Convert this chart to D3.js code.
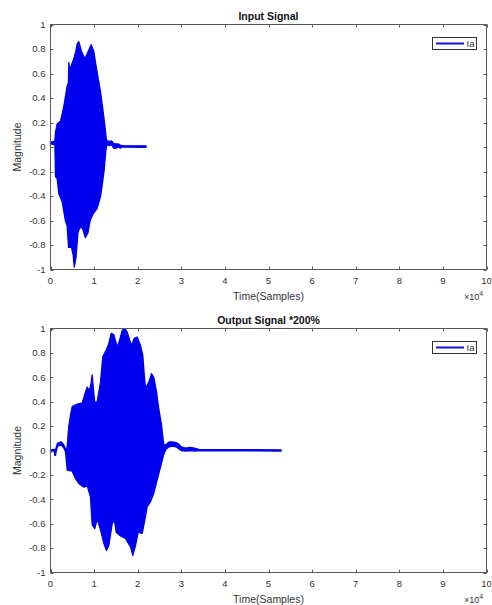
<!DOCTYPE html>
<html><head><meta charset="utf-8">
<script src="https://cdn.jsdelivr.net/npm/d3@7"></script>
<style>body{margin:0;background:#fff}svg{display:block}</style>
</head><body>
<svg id="c" width="492" height="605"></svg>
<script>
// x values in units of 10^4 samples
const xTicks = [0,1,2,3,4,5,6,7,8,9,10];
const yTicks = [-1,-0.8,-0.6,-0.4,-0.2,0,0.2,0.4,0.6,0.8,1];
const yTickLabels = ["-1","-0.8","-0.6","-0.4","-0.2","0","0.2","0.4","0.6","0.8","1"];
const titles = ["Input Signal","Output Signal *200%"];
const legendLabel = "Ia";

// Input signal envelope (upper / lower)
const inUpper = [[0,0.045],[0.05,0.04],[0.10,0.05],[0.115,0.12],[0.154,0.19],[0.19,0.2],[0.229,0.21],[0.305,0.33],[0.383,0.5],[0.41,0.52],[0.42,0.69],[0.44,0.62],[0.459,0.65],[0.534,0.72],[0.58,0.78],[0.612,0.84],[0.649,0.86],[0.711,0.78],[0.787,0.72],[0.865,0.78],[0.933,0.835],[0.993,0.78],[1.032,0.69],[1.094,0.56],[1.147,0.45],[1.2,0.31],[1.245,0.18],[1.278,0.07],[1.3,0.05],[1.35,0.045],[1.4,0.05],[1.45,0.03],[1.5,0.025],[1.55,0.025],[1.6,0.015],[1.65,0.012],[2.19,0.01]];
const inLower = [[0,0.025],[0.1,0.02],[0.115,-0.24],[0.154,-0.26],[0.19,-0.38],[0.27,-0.45],[0.34,-0.6],[0.38,-0.64],[0.415,-0.82],[0.48,-0.82],[0.52,-0.88],[0.545,-0.98],[0.585,-0.9],[0.63,-0.7],[0.67,-0.66],[0.73,-0.66],[0.8,-0.74],[0.86,-0.7],[0.91,-0.6],[0.97,-0.55],[1.07,-0.5],[1.15,-0.4],[1.19,-0.3],[1.23,-0.19],[1.27,-0.03],[1.29,0.02],[1.35,0.01],[1.4,0.02],[1.45,-0.01],[1.5,-0.01],[1.55,0.0],[1.6,-0.01],[1.65,0.0],[2.19,-0.002]];

// Output signal envelope (upper / lower)
const outUpper = [[0,0.005],[0.09,0.01],[0.12,0.01],[0.16,0.06],[0.25,0.07],[0.3,0.05],[0.34,0.015],[0.38,0.02],[0.42,0.2],[0.459,0.29],[0.498,0.36],[0.612,0.38],[0.727,0.39],[0.803,0.48],[0.842,0.52],[0.894,0.49],[0.93,0.55],[0.956,0.62],[0.985,0.5],[1.016,0.39],[1.071,0.4],[1.147,0.56],[1.2,0.77],[1.261,0.81],[1.337,0.875],[1.392,0.96],[1.452,0.95],[1.53,0.85],[1.583,0.9],[1.644,0.985],[1.704,1.0],[1.759,0.97],[1.858,0.86],[1.92,0.92],[1.989,0.93],[2.064,0.86],[2.117,0.78],[2.15,0.62],[2.179,0.51],[2.255,0.56],[2.317,0.63],[2.369,0.6],[2.431,0.48],[2.484,0.34],[2.546,0.21],[2.599,0.04],[2.65,0.05],[2.72,0.07],[2.8,0.07],[2.88,0.065],[2.95,0.05],[3.0,0.03],[3.1,0.02],[3.2,0.025],[3.3,0.02],[3.4,0.01],[5.29,0.005]];
const outLower = [[0,-0.01],[0.09,-0.01],[0.1,-0.04],[0.115,-0.04],[0.13,-0.01],[0.16,0.035],[0.25,0.045],[0.3,0.025],[0.344,-0.01],[0.383,-0.16],[0.498,-0.17],[0.573,-0.23],[0.649,-0.27],[0.764,-0.3],[0.842,-0.29],[0.917,-0.38],[0.956,-0.61],[1.016,-0.64],[1.071,-0.56],[1.147,-0.65],[1.222,-0.76],[1.284,-0.82],[1.337,-0.78],[1.415,-0.6],[1.468,-0.57],[1.507,-0.67],[1.606,-0.7],[1.72,-0.72],[1.835,-0.79],[1.888,-0.86],[1.95,-0.78],[2.011,-0.67],[2.103,-0.68],[2.163,-0.57],[2.218,-0.46],[2.294,-0.42],[2.369,-0.35],[2.447,-0.24],[2.523,-0.135],[2.599,-0.03],[2.65,0.01],[2.72,0.03],[2.8,0.035],[2.88,0.03],[2.95,0.01],[3.0,0.0],[3.1,-0.005],[3.2,0.0],[3.3,-0.005],[3.4,0.0],[5.29,-0.005]];

const svg = d3.select("#c");
const FONT = "'Liberation Sans', Arial, Helvetica, sans-serif";
const TXT = "#333";
const AX = "#5a5a5a";
const BLUE = "#0000f0";

function panel(top, bottom, title, upper, lower) {
  const L = 50.5, R = 486.5;
  const x = d3.scaleLinear().domain([0, 10]).range([L, R]);
  const y = d3.scaleLinear().domain([-1, 1]).range([bottom, top]);
  const g = svg.append("g");

  // signal (dense oscillation drawn as its envelope)
  const pts = upper.concat(lower.slice().reverse());
  const line = d3.line().x(d => x(d[0])).y(d => y(d[1]));
  g.append("path").attr("d", line(pts) + "Z")
    .attr("fill", BLUE).attr("stroke", BLUE).attr("stroke-width", 1.3)
    .attr("stroke-linejoin", "round");

  // frame
  g.append("rect").attr("x", L).attr("y", top).attr("width", R - L).attr("height", bottom - top)
    .attr("fill", "none").attr("stroke", AX).attr("stroke-width", 1);

  const tl = 3;
  // x ticks
  xTicks.forEach(t => {
    const px = Math.round(x(t)) + 0.5;
    g.append("line").attr("x1", px).attr("x2", px).attr("y1", bottom).attr("y2", bottom - tl).attr("stroke", AX);
    g.append("line").attr("x1", px).attr("x2", px).attr("y1", top).attr("y2", top + tl).attr("stroke", AX);
    g.append("text").attr("x", x(t)).attr("y", bottom + 14).attr("text-anchor", "middle")
      .attr("font-family", FONT).attr("font-size", 9.5).attr("fill", TXT).text(t);
  });
  // y ticks
  yTicks.forEach((t, i) => {
    const py = Math.round(y(t)) + 0.5;
    g.append("line").attr("x1", L).attr("x2", L + tl).attr("y1", py).attr("y2", py).attr("stroke", AX);
    g.append("line").attr("x1", R).attr("x2", R - tl).attr("y1", py).attr("y2", py).attr("stroke", AX);
    g.append("text").attr("x", L - 5).attr("y", y(t) + 3.3).attr("text-anchor", "end")
      .attr("font-family", FONT).attr("font-size", 9.5).attr("fill", TXT).text(yTickLabels[i]);
  });

  // title
  g.append("text").attr("x", (L + R) / 2).attr("y", top - 5).attr("text-anchor", "middle")
    .attr("font-family", FONT).attr("font-size", 10.5).attr("font-weight", "bold").attr("fill", "#111").text(title);
  // x label
  g.append("text").attr("x", (L + R) / 2).attr("y", bottom + 30).attr("text-anchor", "middle")
    .attr("font-family", FONT).attr("font-size", 10.5).attr("fill", TXT).text("Time(Samples)");
  // exponent
  const ex = g.append("text").attr("x", 464).attr("y", bottom + 30)
    .attr("font-family", FONT).attr("font-size", 9).attr("fill", TXT);
  ex.append("tspan").text("\u00d710");
  ex.append("tspan").attr("dy", -4).attr("font-size", 7).text("4");
  // y label
  const cy = (top + bottom) / 2;
  g.append("text").attr("transform", `translate(21,${cy}) rotate(-90)`).attr("text-anchor", "middle")
    .attr("font-family", FONT).attr("font-size", 10.5).attr("fill", TXT).text("Magnitude");

  // legend
  const lx = 432.5, ly = top + 13, lw = 44, lh = 12;
  g.append("rect").attr("x", lx).attr("y", ly).attr("width", lw).attr("height", lh)
    .attr("fill", "#fff").attr("stroke", "#333").attr("stroke-width", 1);
  g.append("line").attr("x1", lx + 3.5).attr("x2", lx + 31.5).attr("y1", ly + lh / 2).attr("y2", ly + lh / 2)
    .attr("stroke", "#1010d0").attr("stroke-width", 2);
  g.append("text").attr("x", lx + 34).attr("y", ly + lh / 2 + 3.5)
    .attr("font-family", FONT).attr("font-size", 9.5).attr("fill", TXT).text(legendLabel);
}

panel(24.5, 269.5, titles[0], inUpper, inLower);
panel(328.5, 572.5, titles[1], outUpper, outLower);
</script>
</body></html>
